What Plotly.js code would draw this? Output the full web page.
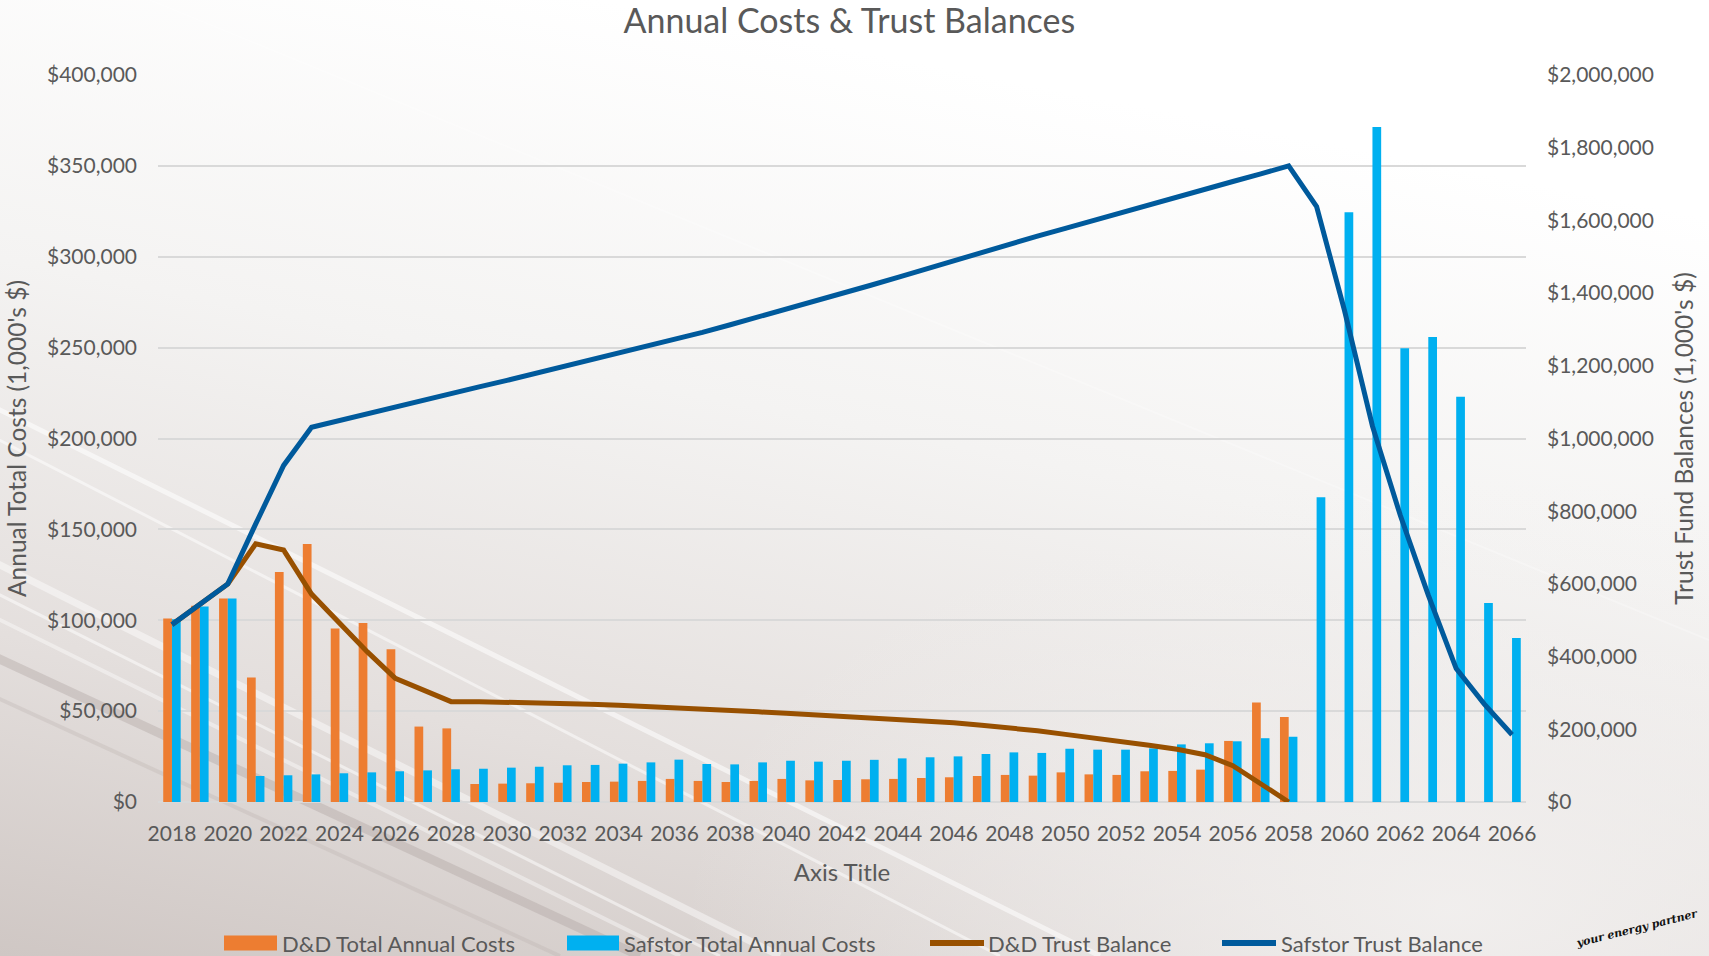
<!DOCTYPE html>
<html>
<head>
<meta charset="utf-8">
<script src="https://cdn.plot.ly/plotly-3.0.1.min.js"></script>
<style>
  html, body { margin: 0; padding: 0; width: 1709px; height: 956px; overflow: hidden; }
  body {
    background-color: #ebe8e6;
    background-image: url("data:image/svg+xml;utf8,<svg xmlns='http://www.w3.org/2000/svg' width='1709' height='956'><defs><linearGradient id='g' x1='0.35' y1='0' x2='0' y2='1'><stop offset='0' stop-color='%23ffffff'/><stop offset='0.35' stop-color='%23f4f3f2'/><stop offset='0.7' stop-color='%23e4dfdd'/><stop offset='1' stop-color='%23cfc7c4'/></linearGradient><radialGradient id='r' cx='0.85' cy='0.95' r='0.45'><stop offset='0' stop-color='%23f2f0ef' stop-opacity='0.9'/><stop offset='1' stop-color='%23f2f0ef' stop-opacity='0'/></radialGradient></defs><rect width='1709' height='956' fill='url(%23g)'/><rect width='1709' height='956' fill='url(%23r)'/><g stroke='%23ffffff' fill='none'><line x1='-20' y1='400' x2='1100' y2='956' stroke-width='5' stroke-opacity='0.55'/><line x1='-20' y1='430' x2='1000' y2='956' stroke-width='3' stroke-opacity='0.5'/><line x1='-20' y1='555' x2='780' y2='956' stroke-width='7' stroke-opacity='0.45'/><line x1='-20' y1='585' x2='720' y2='956' stroke-width='3' stroke-opacity='0.5'/><line x1='-20' y1='610' x2='680' y2='956' stroke-width='4' stroke-opacity='0.4'/><line x1='150' y1='0' x2='1709' y2='640' stroke-width='2' stroke-opacity='0.25'/></g><line x1='-20' y1='650' x2='640' y2='956' stroke='%23a89f9b' stroke-width='9' stroke-opacity='0.35'/><line x1='-20' y1='690' x2='560' y2='956' stroke='%23b8b0ac' stroke-width='4' stroke-opacity='0.3'/></svg>");
    background-size: 1709px 956px;
  }
  #chart { width: 1709px; height: 956px; }
</style>
</head>
<body>
<div id="chart"></div>
<script>
const years = [2018,2019,2020,2021,2022,2023,2024,2025,2026,2027,2028,2029,2030,2031,2032,2033,2034,2035,2036,2037,2038,2039,2040,2041,2042,2043,2044,2045,2046,2047,2048,2049,2050,2051,2052,2053,2054,2055,2056,2057,2058,2059,2060,2061,2062,2063,2064,2065,2066];

const ddCosts = [101000,108000,112000,68500,126500,142000,95500,98500,84000,41500,40500,9900,10100,10300,10600,11000,11200,11600,12700,11600,11000,11600,12700,11900,12100,12500,12700,13200,13600,14300,14900,14500,16300,15200,14900,16900,17100,17800,33600,54800,46800,null,null,null,null,null,null,null,null];

const safstorCosts = [100500,107500,112000,14300,14700,15200,15800,16300,16900,17400,18000,18300,18900,19400,20200,20400,21100,21800,23300,20900,20700,21800,22700,22200,22700,23200,24000,24600,25100,26400,27300,27000,29300,28800,28800,29500,31700,32300,33400,35100,35900,167700,324500,371400,249700,255900,223000,109500,90300];

const ddTrust = [488000,542000,600000,710000,693000,572000,491000,413000,340000,308000,276000,276000,275000,273000,271000,269000,266000,263000,259000,255000,252000,248000,244000,240000,236000,232000,228000,223000,218000,211000,204000,196000,186000,177000,167000,156000,145000,130000,100000,50000,0,null,null,null,null,null,null,null,null];

const safstorTrust = [488000,542000,600000,765000,926000,1031000,1050000,1068000,1087000,1105000,1123000,1142000,1160000,1179000,1197000,1216000,1234000,1252000,1271000,1292000,1313000,1334000,1355000,1377000,1399000,1421000,1443000,1466000,1490000,1512000,1535000,1557000,1578000,1600000,1622000,1643000,1665000,1686000,1707000,1728000,1750000,1638000,1352000,1034000,788000,569000,367000,270000,185000];

const seriesNames = ['D&D Total Annual Costs', 'Safstor Total Annual Costs', 'D&D Trust Balance', 'Safstor Trust Balance'];
const seriesColors = ['#ED7D31', '#00B0F0', '#985000', '#005A9C'];

const xTicks = [2018,2020,2022,2024,2026,2028,2030,2032,2034,2036,2038,2040,2042,2044,2046,2048,2050,2052,2054,2056,2058,2060,2062,2064,2066];
const leftTicks = [0,50000,100000,150000,200000,250000,300000,350000,400000];
const rightTicks = [0,200000,400000,600000,800000,1000000,1200000,1400000,1600000,1800000,2000000];

const FONT = 'Lato, "Open Sans", sans-serif';
const GREY = '#595959';

const traces = [
  { type: 'bar', name: seriesNames[0], x: years, y: ddCosts,
    marker: { color: seriesColors[0], line: { width: 0 } }, yaxis: 'y' },
  { type: 'bar', name: seriesNames[1], x: years, y: safstorCosts,
    marker: { color: seriesColors[1], line: { width: 0 } }, yaxis: 'y' },
  { type: 'scatter', mode: 'lines', name: seriesNames[2], x: years, y: ddTrust,
    line: { color: seriesColors[2], width: 5 }, yaxis: 'y2' },
  { type: 'scatter', mode: 'lines', name: seriesNames[3], x: years, y: safstorTrust,
    line: { color: seriesColors[3], width: 5 }, yaxis: 'y2' }
];

// Legend drawn below the chart (wide swatches like the original)
const PL = 158, PW = 1368, PB = 802, PH = 727;
const px = v => (v - PL) / PW;
const py = v => (PB - v) / PH;
const legY = 943;
const legendItems = [
  { kind: 'rect', x0: 224, x1: 277, tx: 280 },
  { kind: 'rect', x0: 567, x1: 619, tx: 622 },
  { kind: 'line', x0: 930, x1: 984, tx: 986 },
  { kind: 'line', x0: 1222, x1: 1276, tx: 1279 }
];
const shapes = [];
const annotations = [];
legendItems.forEach((it, i) => {
  if (it.kind === 'rect') {
    shapes.push({ type: 'rect', xref: 'paper', yref: 'paper', x0: px(it.x0), x1: px(it.x1),
      y0: py(legY - 7.5), y1: py(legY + 7.5), fillcolor: seriesColors[i], line: { width: 0 } });
  } else {
    shapes.push({ type: 'line', xref: 'paper', yref: 'paper', x0: px(it.x0), x1: px(it.x1),
      y0: py(legY), y1: py(legY), line: { color: seriesColors[i], width: 6 } });
  }
  annotations.push({ text: seriesNames[i], xref: 'paper', yref: 'paper', x: px(it.tx), y: py(legY),
    xanchor: 'left', yanchor: 'middle', showarrow: false, font: { size: 22, color: GREY, family: FONT } });
});
annotations.push({ text: '<i><b>your energy partner</b></i>', xref: 'paper', yref: 'paper',
  x: px(1702), y: py(928), xanchor: 'right', yanchor: 'middle', showarrow: false, textangle: -14,
  font: { family: '"DejaVu Serif", serif', size: 11, color: '#111111' } });

const layout = {
  width: 1709, height: 956,
  paper_bgcolor: 'rgba(0,0,0,0)',
  plot_bgcolor: 'rgba(0,0,0,0)',
  margin: { l: 158, r: 183, t: 75, b: 154 },
  font: { family: FONT, color: GREY, size: 21 },
  title: { text: 'Annual Costs & Trust Balances', font: { size: 34, color: GREY, family: FONT },
           x: 0.497, xanchor: 'center', y: 0.978, yanchor: 'middle' },
  barmode: 'group', bargap: 0.375, bargroupgap: 0,
  showlegend: false,
  xaxis: { type: 'linear', range: [2017.5, 2066.5], tickmode: 'array', tickvals: xTicks,
           showgrid: false, zeroline: false, showline: false, ticks: '', ticklabelstandoff: 17,
           tickfont: { size: 21, color: GREY },
           title: { text: 'Axis Title', font: { size: 24, color: GREY }, standoff: 20 } },
  yaxis: { range: [0, 400000], tickmode: 'array', tickvals: leftTicks, tickformat: '$,d',
           showgrid: true, gridcolor: '#d9d9d9', gridwidth: 2, zeroline: true, zerolinecolor: '#d9d9d9', zerolinewidth: 2,
           ticks: '', ticklabelstandoff: 20, tickfont: { size: 21, color: GREY },
           title: { text: "Annual Total Costs (1,000's $)", font: { size: 24.5, color: GREY }, standoff: 13 } },
  yaxis2: { overlaying: 'y', side: 'right', range: [0, 2000000], tickmode: 'array', tickvals: rightTicks,
            tickformat: '$,d', showgrid: false, zeroline: false, ticks: '', ticklabelstandoff: 20,
            tickfont: { size: 21, color: GREY },
            title: { text: "Trust Fund Balances (1,000's $)", font: { size: 24.5, color: GREY }, standoff: 22 } },
  shapes: shapes,
  annotations: annotations
};

Plotly.newPlot('chart', traces, layout, { displayModeBar: false, staticPlot: true });
</script>
</body>
</html>
